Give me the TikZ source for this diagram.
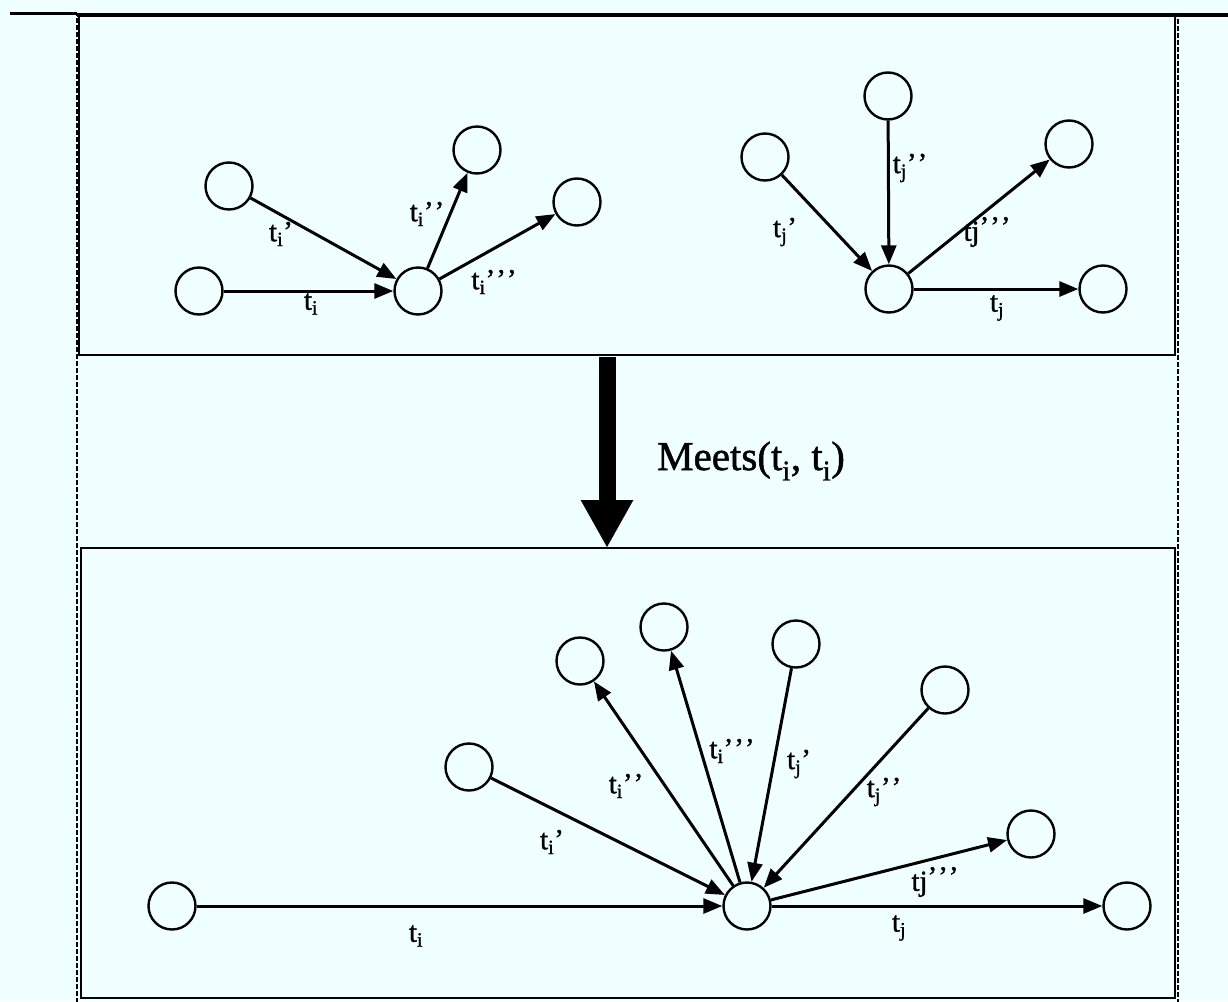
\documentclass[tikz,border=0pt]{standalone}
\usepackage{fontspec}
\setmainfont{Liberation Serif}
\newfontfamily\heavyfont[FakeBold=1.2]{Liberation Serif}
\usetikzlibrary{arrows.meta}
\definecolor{bg}{RGB}{240,255,255}
\begin{document}
\begin{tikzpicture}[x=1pt,y=-1pt,
  state/.style={circle,draw,line width=2.4pt,minimum size=47pt,inner sep=0pt},
  conn/.style={line width=3pt,-{Triangle[length=19pt,width=15pt]}},
  lbl/.style={font=\heavyfont\fontsize{29}{32}\selectfont,inner sep=0pt},
  box/.style={draw,line width=2pt},
  frame/.style={draw,line width=1.6pt,dash pattern=on 5pt off 2pt},
  bigarrow/.style={line width=17pt,-{Triangle[length=48pt,width=49pt]}}
]
\fill[bg] (0,0) rectangle (1228,1001);
\useasboundingbox (0,0) rectangle (1228,1001);

% frames
\draw[frame] (77,1010) -- (77,15) -- (1178,15) -- (1178,1010);
\draw[box] (79,16) rectangle (1175,355);
\draw[box] (81,548) rectangle (1175,998);
\draw[line width=3.5pt] (10,13.5) -- (77,13.5);
\draw[line width=4pt] (77,15) -- (1228,15);

% top-left cluster
\node[state] (A) at (229,186) {};
\node[state] (B) at (199,291) {};
\node[state] (C) at (418,291) {};
\node[state] (D) at (477,150) {};
\node[state] (E) at (577,202) {};
\draw[conn] (B) -- (C);
\draw[conn] (A) -- (C);
\draw[conn] (C) -- (D);
\draw[conn] (C) -- (E);
\node[lbl] (lA) at (281,234) {t\textsubscript{i}’};
\node[lbl] (lB) at (311,304) {t\textsubscript{i}};
\node[lbl] (lD) at (427,214) {t\textsubscript{i}’\hspace{1pt}’};
\node[lbl] (lE) at (494,282) {t\textsubscript{i}’\hspace{1pt}’\hspace{1pt}’};

% top-right cluster
\node[state] (F) at (765,157) {};
\node[state] (G) at (888,96) {};
\node[state] (H) at (889,289) {};
\node[state] (I) at (1069,144) {};
\node[state] (J) at (1103,289) {};
\draw[conn] (F) -- (H);
\draw[conn] (G) -- (H);
\draw[conn] (H) -- (I);
\draw[conn] (H) -- (J);
\node[lbl] (lF) at (785,232) {t\textsubscript{j}’};
\node[lbl] (lG) at (910,168) {t\textsubscript{j}’\hspace{1pt}’};
\node[lbl] (lI) at (987,232) {tj\raisebox{0.15em}{’\hspace{1pt}’\hspace{1pt}’}};
\node[lbl] (lJ) at (997,308) {t\textsubscript{j}};

% big arrow
\coordinate (ma) at (607,357);
\coordinate (mb) at (607,548);
\draw[bigarrow] (ma) -- (mb);
\node[font=\heavyfont\fontsize{41}{45}\selectfont,inner sep=0pt] (meets) at (751,461) {Meets(t\textsubscript{i}, t\textsubscript{i})};

% bottom cluster
\node[state] (R) at (747,906) {};
\node[state] (S) at (172,906) {};
\node[state] (K) at (469,767) {};
\node[state] (L) at (580,661) {};
\node[state] (M) at (664,627) {};
\node[state] (N) at (796,644) {};
\node[state] (O) at (945,690) {};
\node[state] (P) at (1031,834) {};
\node[state] (Q) at (1127,906) {};
\draw[conn] (S) -- (R);
\draw[conn] (K) -- (R);
\draw[conn] (R) -- (L);
\draw[conn] (R) -- (M);
\draw[conn] (N) -- (R);
\draw[conn] (O) -- (R);
\draw[conn] (R) -- (P);
\draw[conn] (R) -- (Q);
\node[lbl] (lS) at (416,936) {t\textsubscript{i}};
\node[lbl] (lK) at (552,842) {t\textsubscript{i}’};
\node[lbl] (lL) at (626,786) {t\textsubscript{i}’\hspace{1pt}’};
\node[lbl] (lM) at (732,751) {t\textsubscript{i}’\hspace{1pt}’\hspace{1pt}’};
\node[lbl] (lN) at (799,764) {t\textsubscript{j}’};
\node[lbl] (lO) at (884,792) {t\textsubscript{j}’\hspace{1pt}’};
\node[lbl] (lP) at (935,882) {tj\raisebox{0.15em}{’\hspace{1pt}’\hspace{1pt}’}};
\node[lbl] (lQ) at (899,928) {t\textsubscript{j}};
\end{tikzpicture}
\end{document}
